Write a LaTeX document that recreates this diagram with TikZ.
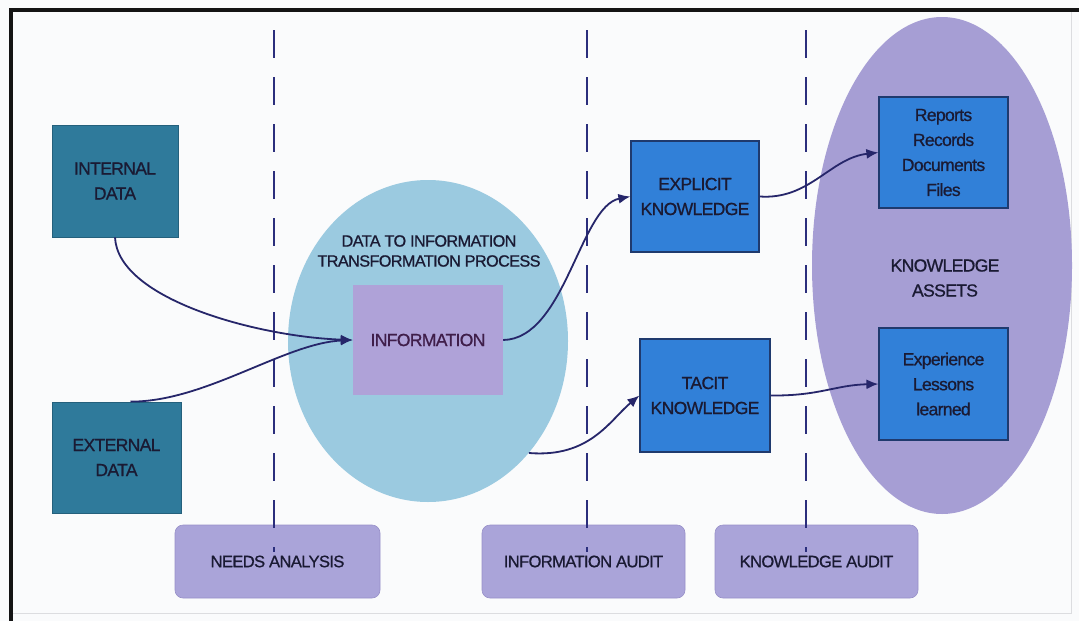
\documentclass[tikz,border=0pt]{standalone}
\usepackage{fontspec}
\setmainfont{Liberation Sans}[LetterSpace=-4, FakeBold=0.8]
\usetikzlibrary{shapes.geometric,arrows.meta,calc}

\definecolor{cBg}{HTML}{FAFBFC}
\definecolor{cFrame}{HTML}{141414}
\definecolor{cFaint}{HTML}{DCDDE0}
\definecolor{cTeal}{HTML}{2F7A9B}
\definecolor{cTealD}{HTML}{24607C}
\definecolor{cBlue}{HTML}{3180D8}
\definecolor{cBlueD}{HTML}{1F3A6E}
\definecolor{cSky}{HTML}{9BCAE0}
\definecolor{cInfo}{HTML}{AFA2D8}
\definecolor{cAsset}{HTML}{A69ED4}
\definecolor{cLabel}{HTML}{AAA4D9}
\definecolor{cLabelD}{HTML}{9890C8}
\definecolor{cLine}{HTML}{2B2E7C}
\definecolor{cArrow}{HTML}{26266A}
\definecolor{cText}{HTML}{1A1A33}
\definecolor{cInfoText}{HTML}{3F1E4A}

\begin{document}
\begin{tikzpicture}[x=1pt,y=-1pt,
  box/.style={rectangle, inner sep=0pt, align=center,
    font=\fontsize{17.6}{25}\selectfont, text=cText},
  databox/.style={box, fill=cTeal, draw=cTealD, line width=0.8pt},
  kbox/.style={box, fill=cBlue, draw=cBlueD, line width=1.2pt},
  tag/.style={rectangle, rounded corners=8pt, fill=cLabel, draw=cLabelD,
    line width=0.6pt, inner sep=0pt, font=\fontsize{16.6}{20}\selectfont,
    text=cText, minimum height=73pt},
  divider/.style={draw=cLine, line width=2.2pt, dash pattern=on 28pt off 19pt},
  flow/.style={draw=cArrow, line width=1.8pt, -{Latex[length=12pt,width=10pt]}},
]
\useasboundingbox (0,0) rectangle (1079,621);
\fill[cBg] (0,0) rectangle (1079,621);

% outer frame
\draw[cFaint, line width=1pt] (1071,12) -- (1071,613) -- (12,613);
\draw[cFrame, line width=4pt] (10.5,621) -- (10.5,9.75) -- (1079,9.75);

% stage labels along the bottom
\node[tag, minimum width=205pt] (na) at (277.5,561.5) {NEEDS ANALYSIS};
\node[tag, minimum width=203pt] (ia) at (583.5,561.5) {INFORMATION AUDIT};
\node[tag, minimum width=203pt] (ka) at (816.5,561.5) {KNOWLEDGE AUDIT};

% stage dividers
\draw[divider] (274,30) -- (274,552);
\draw[divider] (587,30) -- (587,552);
\draw[divider] (806,30) -- (806,552);

% data sources
\node[databox, minimum width=126pt, minimum height=112pt] (int) at (115,181) {INTERNAL\\DATA};
\node[databox, minimum width=129pt, minimum height=111pt] (ext) at (116.5,457.5) {EXTERNAL\\DATA};

% transformation process
\node[ellipse, fill=cSky, minimum width=280pt, minimum height=322pt, inner sep=0pt] (proc) at (428,341) {};
\node[align=center, font=\fontsize{16.3}{20}\selectfont, text=cText] (proctitle) at (429,251) {DATA TO INFORMATION\\TRANSFORMATION PROCESS};
\node[rectangle, fill=cInfo, minimum width=150pt, minimum height=110pt, inner sep=0pt,
  font=\fontsize{17.6}{20}\selectfont, text=cInfoText] (info) at (428,340) {INFORMATION};

% knowledge
\node[kbox, minimum width=128pt, minimum height=111pt] (expl) at (695,196.5) {EXPLICIT\\KNOWLEDGE};
\node[kbox, minimum width=130pt, minimum height=113pt] (tacit) at (705,395.5) {TACIT\\KNOWLEDGE};

% knowledge assets
\node[ellipse, fill=cAsset, minimum width=260pt, minimum height=497pt, inner sep=0pt] (assets) at (942,265.5) {};
\node[align=center, font=\fontsize{17.6}{25}\selectfont, text=cText] (assetlabel) at (945,278) {KNOWLEDGE\\ASSETS};
\node[kbox, minimum width=129pt, minimum height=111pt] (rep) at (943.5,152.5) {Reports\\Records\\Documents\\Files};
\node[kbox, minimum width=129pt, minimum height=112pt] (exp) at (943.5,384) {Experience\\Lessons\\learned};

% flows
\coordinate (extstart) at ($(ext.north)+(14,0)$);
\draw[flow] (int.south) .. controls (118,300) and (260,337) .. (info.west);
\draw[flow] (extstart) .. controls (205,402) and (285,343) .. (info.west);
\draw[flow] (info.east) .. controls (565,339) and (580,206) .. (expl.west);
\draw[flow] (proc.-48) .. controls (590,458) and (610,420) .. (tacit.west);
\draw[flow] (expl.east) .. controls (810,200) and (830,158) .. (rep.west);
\draw[flow] (tacit.east) .. controls (820,396) and (835,385) .. (exp.west);
\end{tikzpicture}
\end{document}
